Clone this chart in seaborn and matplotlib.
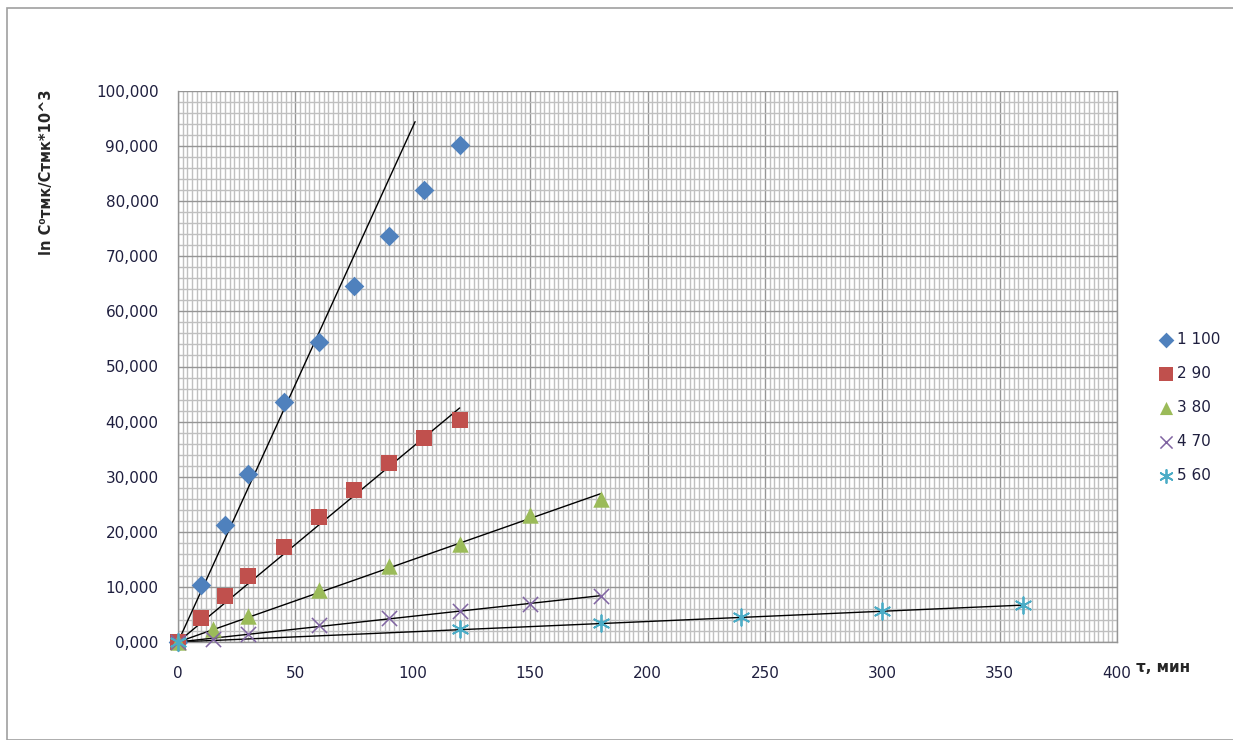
import matplotlib
matplotlib.use("Agg")
import matplotlib.pyplot as plt
import seaborn as sns
import pandas as pd
import numpy as np
from matplotlib.ticker import MultipleLocator, FuncFormatter
from matplotlib.patches import Rectangle

# ---- data ----
s1_x = [0, 10, 20, 30, 45, 60, 75, 90, 105, 120]
s1_y = [0, 10.3, 21.2, 30.5, 43.5, 54.4, 64.6, 73.6, 82.0, 90.2]
s2_x = [0, 10, 20, 30, 45, 60, 75, 90, 105, 120]
s2_y = [0, 4.3, 8.3, 12.0, 17.3, 22.6, 27.6, 32.4, 37.0, 40.3]
s3_x = [0, 15, 30, 60, 90, 120, 150, 180]
s3_y = [0, 2.3, 4.8, 9.4, 13.8, 17.8, 23.0, 26.0]
s4_x = [0, 15, 30, 60, 90, 120, 150, 180]
s4_y = [0, 0.5, 1.5, 3.0, 4.4, 5.6, 6.9, 8.4]
s5_x = [0, 120, 180, 240, 300, 360]
s5_y = [0, 2.3, 3.5, 4.5, 5.6, 6.7]
series_names = ["1 100", "2 90", "3 80", "4 70", "5 60"]
# trend lines through origin: slope and x extent
trend_slope = [0.935, 0.354, 0.1495, 0.0467, 0.0186]
trend_xmax = [101, 120, 180, 180, 360]

xs = [s1_x, s2_x, s3_x, s4_x, s5_x]
ys = [s1_y, s2_y, s3_y, s4_y, s5_y]
df = pd.concat([pd.DataFrame({"x": x, "y": y, "s": n}) for x, y, n in zip(xs, ys, series_names)])

colors = ["#4F81BD", "#C0504D", "#9BBB59", "#8064A2", "#4BACC6"]
markers = ["D", "s", "^", "x", "*"]

sns.set_style("white")
plt.rcParams['font.family'] = ['DejaVu Sans']

fig = plt.figure(figsize=(12.33, 7.4), dpi=100)
ax = fig.add_axes([178/1233, 1-642/740, (1117-178)/1233, (642-91)/740])

# grid
ax.xaxis.set_major_locator(MultipleLocator(50))
ax.xaxis.set_minor_locator(MultipleLocator(2))
ax.yaxis.set_major_locator(MultipleLocator(10))
ax.yaxis.set_minor_locator(MultipleLocator(2))
ax.grid(which="minor", color="#C0C0C0", lw=1.0)
ax.grid(which="major", color="#959595", lw=1.0)
ax.set_axisbelow(True)

# trend lines
for k, xm in zip(trend_slope, trend_xmax):
    tx = np.array([0, xm])
    ax.plot(tx, k * tx, color="black", lw=1.0, zorder=2)

# scatter points via seaborn
for n, c, m in zip(series_names, colors, markers):
    sub = df[df.s == n]
    if m == "x":
        sns.scatterplot(data=sub, x="x", y="y", marker="x", s=120, color=c, linewidth=1.1,
                        zorder=3, label=n, ax=ax, clip_on=False)
    elif m == "*":
        sns.scatterplot(data=sub, x="x", y="y", marker=(6, 2, 0), s=140, color=c, linewidth=1.3,
                        edgecolor=c, zorder=3, label=n, ax=ax, clip_on=False)
    else:
        sz = 100 if m == "D" else 140
        sns.scatterplot(data=sub, x="x", y="y", marker=m, s=sz, color=c, linewidth=0,
                        zorder=3, label=n, ax=ax, clip_on=False)

ax.set_xlim(0, 400)
ax.set_ylim(0, 100)
ax.set_xlabel("")
ax.set_ylabel("")
ax.yaxis.set_major_formatter(FuncFormatter(lambda v, p: f"{v:.3f}".replace(".", ",")))
ax.xaxis.set_major_formatter(FuncFormatter(lambda v, p: f"{int(v)}"))

ax.spines["top"].set_visible(False)
for sp in ["left", "bottom", "right"]:
    ax.spines[sp].set_color("#959595")
    ax.spines[sp].set_linewidth(1.0)
ax.tick_params(axis="both", which="major", length=5, color="#959595", direction="out",
               labelsize=11, labelcolor="#1F1F3F")
ax.tick_params(axis="x", pad=12)
ax.tick_params(axis="y", pad=9)
ax.tick_params(which="minor", length=0)

fig.text(1163/1233, 1-668/740, "τ, мин", fontsize=11, fontweight="bold", ha="center", va="center")
fig.text(47/1233, 1-172/740, "ln C⁰тмк/Cтмк*10^3", fontsize=10.5, fontweight="bold",
         rotation=90, ha="center", va="center")

leg = ax.legend(loc="center left", bbox_to_anchor=(1.035, 0.426), frameon=False,
                fontsize=11, handletextpad=0.1, labelspacing=1.25, borderaxespad=0,
                handlelength=1.3, markerscale=0.8)
for t in leg.get_texts():
    t.set_color("#1F1F3F")

fig.patches.append(Rectangle((7/1233, 0), 1, 1-8/740, transform=fig.transFigure,
                             fill=False, edgecolor="#A0A0A0", lw=1.2))

fig.savefig("out.png", dpi=100)
